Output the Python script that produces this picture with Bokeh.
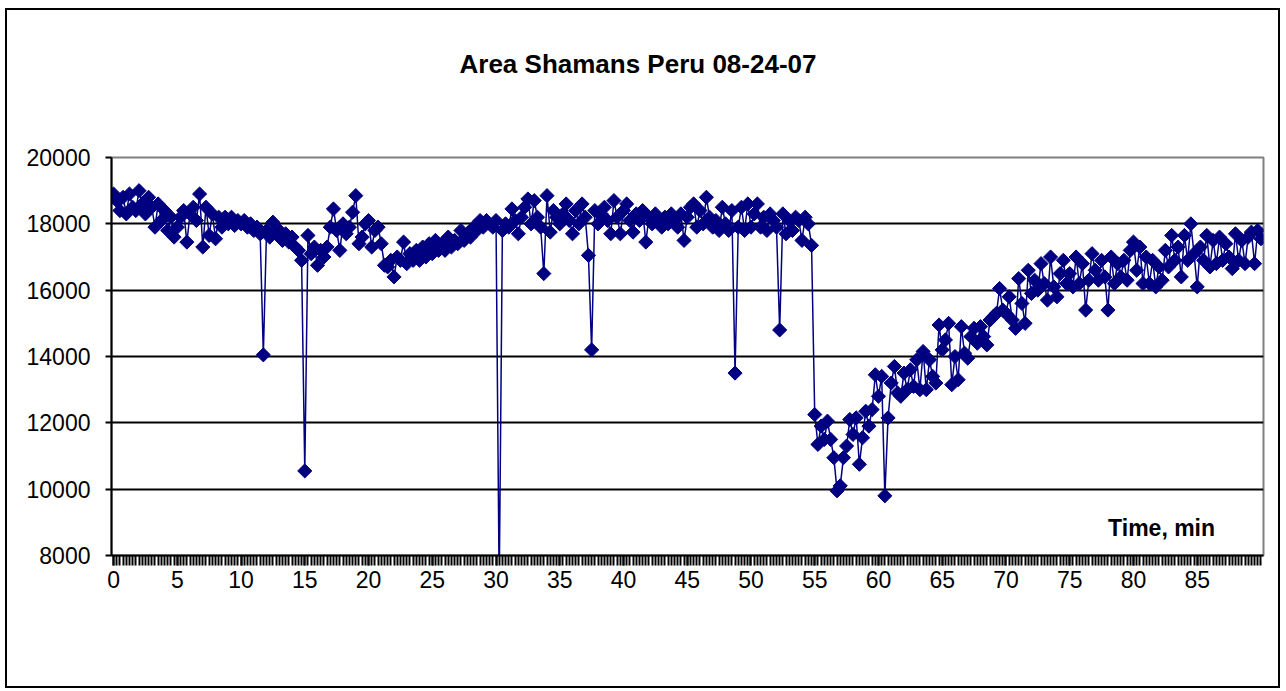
import math
from bokeh.plotting import figure
from bokeh.models import Range1d, FixedTicker, Label
from bokeh.layouts import column
from bokeh.embed import file_html
from bokeh.resources import INLINE

TITLE = "Area Shamans Peru 08-24-07"
X_LABEL = "Time, min"
STEP_MIN = 0.25  # sampling interval, minutes

# Area values, one row per 5 minutes (20 samples each)
area = [
    18900, 18700, 18400, 18800, 18300, 18900, 18500, 18400, 19000, 18600, 18300, 18800, 18500, 17900, 18600, 18100, 18400, 17800, 18200, 17600,
    17900, 18200, 18400, 17450, 18300, 18500, 18100, 18900, 17300, 18500, 17650, 18300, 17550, 18200, 17900, 18200, 18000, 18200, 17950, 18100,
    18000, 18100, 17900, 18000, 17800, 17900, 17700, 14050, 17800, 17600, 18050, 17700, 17800, 17500, 17700, 17450, 17600, 17300, 17200, 16900,
    10550, 17650, 17100, 17300, 16750, 17200, 17000, 17300, 17900, 18450, 17800, 17200, 18000, 17700, 17900, 18350, 18850, 17400, 17600, 18000,
    18100, 17300, 17800, 17900, 17400, 16750, 16700, 16900, 16400, 17000, 16900, 17450, 16800, 17100, 16900, 17200, 16900, 17300, 17000, 17400,
    17100, 17500, 17200, 17400, 17200, 17600, 17300, 17500, 17400, 17800, 17500, 17700, 17600, 17900, 17800, 18100, 17900, 18100, 18000, 17900,
    18100, 7000, 17800, 18000, 17900, 18450, 18100, 17700, 18200, 18500, 18750, 18000, 18700, 18200, 17900, 16500, 18850, 17750, 18400, 18200,
    18000, 18300, 18600, 18100, 17700, 18400, 18000, 18600, 18200, 17050, 14200, 18400, 18000, 18300, 18500, 18100, 17700, 18700, 18200, 17700,
    18400, 18600, 18100, 17750, 18300, 18100, 18400, 17450, 18200, 18000, 18300, 18100, 17900, 18200, 18000, 18300, 18100, 17900, 18300, 17500,
    18200, 18500, 18600, 17900, 18400, 18000, 18800, 18200, 17900, 18100, 17800, 18500, 18000, 17800, 18400, 13500, 17900, 18500, 17800, 18600,
    17900, 18300, 18600, 17900, 18200, 17800, 18300, 18100, 17900, 14800, 18300, 17700, 18100, 17800, 18200, 18100, 17500, 18200, 18000, 17350,
    12250, 11350, 11900, 11500, 12050, 11500, 10950, 9950, 10100, 10950, 11300, 12100, 11650, 12150, 10750, 11550, 12350, 11900, 12400, 13450,
    12800, 13400, 9800, 12150, 13200, 13700, 12900, 12800, 13500, 13000, 13600, 13100, 13900, 13000, 14150, 13000, 13900, 13400, 13200, 14950,
    14200, 14500, 15000, 13150, 14000, 13300, 14900, 14100, 13950, 14600, 14850, 14400, 14900, 14600, 14350, 15100, 15200, 15300, 16050, 15400,
    15300, 15800, 15100, 14850, 16350, 15600, 15000, 16600, 15900, 16300, 16000, 16800, 16200, 15700, 17000, 16100, 15800, 16500, 16900, 16200,
    16500, 16100, 17000, 16200, 16800, 15400, 16300, 17100, 16600, 16300, 16900, 16400, 15400, 17000, 16200, 16800, 16400, 16900, 16300, 17200,
    17450, 16600, 17300, 16200, 17000, 16200, 16900, 16100, 16700, 16300, 17200, 16700, 17650, 16900, 17300, 16400, 17650, 16900, 18000, 17100,
    16100, 17300, 16900, 17650, 16700, 17500, 16800, 17600, 16900, 17400, 17000, 16650, 17700, 16900, 17500, 16800, 17600, 17750, 16800, 17800,
    17550,
]
minutes = [i * STEP_MIN for i in range(len(area))]

x_tick_values = [0, 5, 10, 15, 20, 25, 30, 35, 40, 45, 50, 55, 60, 65, 70, 75, 80, 85]
x_minor_values = [i * STEP_MIN for i in range(361)]
y_tick_values = [8000, 10000, 12000, 14000, 16000, 18000, 20000]
y_grid_values = [10000, 12000, 14000, 16000, 18000]

FONT = "Liberation Sans"
NAVY = "#000080"

p = figure(
    frame_width=1152, frame_height=398,
    min_border_left=104, min_border_right=15, min_border_top=147, min_border_bottom=131,
    x_range=Range1d(-0.16, 90.2), y_range=Range1d(8000, 20000),
    output_backend="svg", toolbar_location=None,
)
p.background_fill_color = "white"
p.border_fill_color = "white"
p.outline_line_color = "#808080"
p.outline_line_width = 2

# title
p.title.text = TITLE
p.title.align = "left"
p.title.offset = 348
p.title.standoff = 20
p.title.padding = (0, 0, 0, 69)
p.title.text_font = FONT
p.title.text_font_style = "bold"
p.title.text_font_size = "26px"
p.title.text_color = "black"

# axes
p.xaxis.ticker = FixedTicker(ticks=x_tick_values, minor_ticks=x_minor_values)
p.yaxis.ticker = FixedTicker(ticks=y_tick_values)
for ax in (p.xaxis[0], p.yaxis[0]):
    ax.axis_line_color = "black"
    ax.axis_line_width = 2
    ax.major_tick_line_color = "black"
    ax.major_tick_line_width = 2
    ax.major_tick_in = 0
    ax.major_label_text_font = FONT
    ax.major_label_text_font_size = "23px"
    ax.major_label_text_color = "black"
p.xaxis.major_tick_out = 10
p.xaxis.minor_tick_out = 10
p.xaxis.minor_tick_in = 0
p.xaxis.minor_tick_line_color = "black"
p.xaxis.minor_tick_line_width = 2
p.xaxis.major_label_standoff = 5
p.yaxis.major_tick_out = 6
p.yaxis.minor_tick_line_color = None
p.yaxis.major_label_standoff = 15

p.xgrid.grid_line_color = None
p.ygrid.ticker = FixedTicker(ticks=y_grid_values)
p.ygrid.grid_line_color = "black"
p.ygrid.grid_line_width = 2

# data
p.line(minutes, area, line_color=NAVY, line_width=1.5)
p.scatter(minutes, area, marker="square", angle=math.pi / 4, size=10,
          fill_color=NAVY, line_color=NAVY)

# axis label inside the plot area
p.add_layout(Label(x=86.4, y=8450, text=X_LABEL, text_align="right", text_baseline="bottom",
                   text_font=FONT, text_font_style="bold", text_font_size="23px",
                   text_color="black"))

# chart-area border around the whole figure
layout = column(p, margin=(8, 0, 0, 5), styles={"border": "2px solid black"})

open("out.html", "w").write(file_html(layout, INLINE))
